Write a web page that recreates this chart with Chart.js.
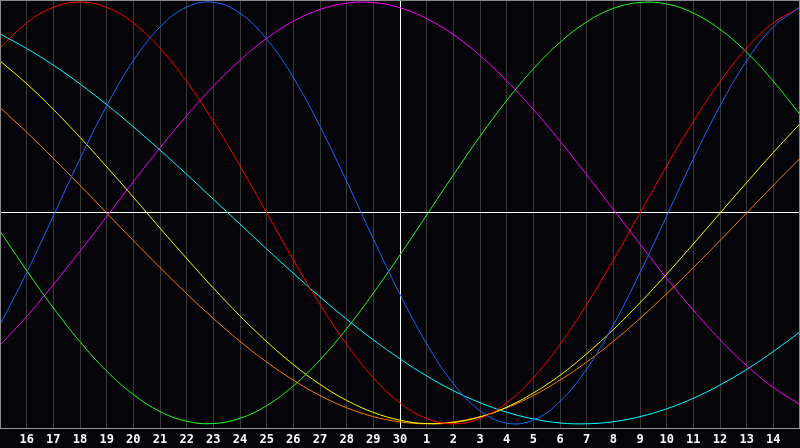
<!DOCTYPE html>
<html>
<head>
<meta charset="utf-8">
<script src="https://cdn.jsdelivr.net/npm/chart.js@4/dist/chart.umd.min.js"></script>
<style>
html,body{margin:0;padding:0;background:#000;}
#wrap{width:800px;height:448px;position:relative;background:#000;}
</style>
</head>
<body>
<div id="wrap"><canvas id="c" width="800" height="448"></canvas></div>
<script>
// Day labels (first and last are the chart edges, not labelled)
const dayLabels = ['15','16','17','18','19','20','21','22','23','24','25','26','27','28','29','30',
  '1','2','3','4','5','6','7','8','9','10','11','12','13','14','15'];

// Series values (-1 .. 1)
const physical = [-0.531,-0.283,-0.014,0.257,0.508,0.722,0.882,0.976,0.999,0.947,0.825,0.642,0.411,0.150,-0.123,-0.386,
  -0.620,-0.809,-0.938,-0.997,-0.982,-0.894,-0.740,-0.531,-0.283,-0.014,0.257,0.508,0.722,0.882,0.976];
const emotional = [0.782,0.901,0.975,1.000,0.975,0.901,0.782,0.623,0.434,0.223,0.000,-0.223,-0.434,-0.623,-0.782,-0.901,
  -0.975,-1.000,-0.975,-0.901,-0.782,-0.623,-0.434,-0.223,0.000,0.223,0.434,0.623,0.782,0.901,0.975];
const intellectual = [-0.086,-0.273,-0.450,-0.611,-0.750,-0.861,-0.942,-0.988,-0.999,-0.974,-0.914,-0.820,-0.697,-0.549,-0.380,-0.199,
  -0.010,0.180,0.363,0.533,0.683,0.809,0.906,0.970,0.998,0.991,0.948,0.871,0.762,0.625,0.467];
const intuitive = [-0.627,-0.491,-0.340,-0.181,-0.017,0.148,0.309,0.461,0.601,0.724,0.828,0.909,0.965,0.995,0.998,0.973,
  0.922,0.846,0.747,0.627,0.491,0.340,0.181,0.017,-0.148,-0.309,-0.461,-0.601,-0.724,-0.828,-0.909];
const aesthetic = [0.721,0.613,0.491,0.359,0.219,0.075,-0.072,-0.216,-0.356,-0.488,-0.610,-0.719,-0.813,-0.889,-0.946,-0.983,
  -0.999,-0.994,-0.968,-0.921,-0.854,-0.770,-0.668,-0.553,-0.426,-0.290,-0.147,-0.001,0.144,0.287,0.423];
const awareness = [0.500,0.383,0.259,0.131,0.000,-0.131,-0.259,-0.383,-0.500,-0.609,-0.707,-0.793,-0.866,-0.924,-0.966,-0.991,
  -1.000,-0.991,-0.966,-0.924,-0.866,-0.793,-0.707,-0.609,-0.500,-0.383,-0.259,-0.131,0.000,0.131,0.259];
const spiritual = [0.849,0.780,0.701,0.612,0.514,0.409,0.298,0.183,0.065,-0.053,-0.171,-0.286,-0.398,-0.504,-0.602,-0.692,
  -0.773,-0.843,-0.900,-0.945,-0.977,-0.996,-1.000,-0.990,-0.966,-0.929,-0.879,-0.816,-0.742,-0.657,-0.564];

const seriesNames = ['Physical','Emotional','Intellectual','Intuitive','Aesthetic','Awareness','Spiritual'];
const seriesData = [physical, emotional, intellectual, intuitive, aesthetic, awareness, spiritual];
const seriesColors = ['#1a66ff','#ff0000','#22ff22','#ff00ff','#ffff00','#ff7f00','#00ffff'];

const frame = {
  id: 'frame',
  beforeDraw(chart) {
    const c = chart.ctx;
    c.save();
    c.fillStyle = '#050408';
    c.fillRect(0, 0, chart.width, chart.height);
    c.restore();
  },
  afterDraw(chart) {
    const a = chart.chartArea, c = chart.ctx;
    c.save();
    c.strokeStyle = '#8a8a8a';
    c.lineWidth = 1;
    c.beginPath();
    c.moveTo(a.left, a.top + 0.5); c.lineTo(a.right, a.top + 0.5);
    c.moveTo(a.right - 0.5, a.top); c.lineTo(a.right - 0.5, a.bottom);
    c.moveTo(a.left + 0.5, a.top); c.lineTo(a.left + 0.5, a.bottom);
    c.stroke();
    c.restore();
  }
};

new Chart(document.getElementById('c'), {
  type: 'line',
  data: {
    labels: dayLabels,
    datasets: seriesData.map((d, i) => ({
      label: seriesNames[i],
      data: d,
      borderColor: seriesColors[i],
      borderWidth: 1,
      pointRadius: 0,
      tension: 0.4,
      fill: false
    }))
  },
  options: {
    responsive: false,
    animation: false,
    devicePixelRatio: 1,
    layout: { padding: 0 },
    plugins: { legend: { display: false }, tooltip: { enabled: false } },
    scales: {
      x: {
        offset: false,
        afterFit: (axis) => { axis.height = 20; axis.paddingLeft = 0; axis.paddingRight = 0; },
        grid: {
          drawTicks: false,
          color: (ctx) => (ctx.index === 15 ? '#ffffff' : '#3a3a3a'),
          lineWidth: 1
        },
        border: { color: '#9a9a9a', width: 1 },
        ticks: {
          autoSkip: false,
          maxRotation: 0,
          padding: 5,
          color: '#ffffff',
          font: { family: 'DejaVu Sans Mono', size: 12, weight: 'bold' },
          callback: function(v, i) { return (i === 0 || i === dayLabels.length - 1) ? '' : dayLabels[i]; }
        }
      },
      y: {
        min: -1.02,
        max: 1.01,
        afterFit: (axis) => { axis.width = 0; axis.paddingTop = 0; axis.paddingBottom = 0; },
        grid: {
          drawTicks: false,
          color: (ctx) => (ctx.tick && ctx.tick.value === 0 ? '#ffffff' : 'rgba(0,0,0,0)'),
          lineWidth: 1
        },
        border: { display: false },
        afterBuildTicks: (axis) => { axis.ticks = [{ value: 0 }]; },
        ticks: { display: false }
      }
    }
  },
  plugins: [frame]
});
</script>
</body>
</html>
